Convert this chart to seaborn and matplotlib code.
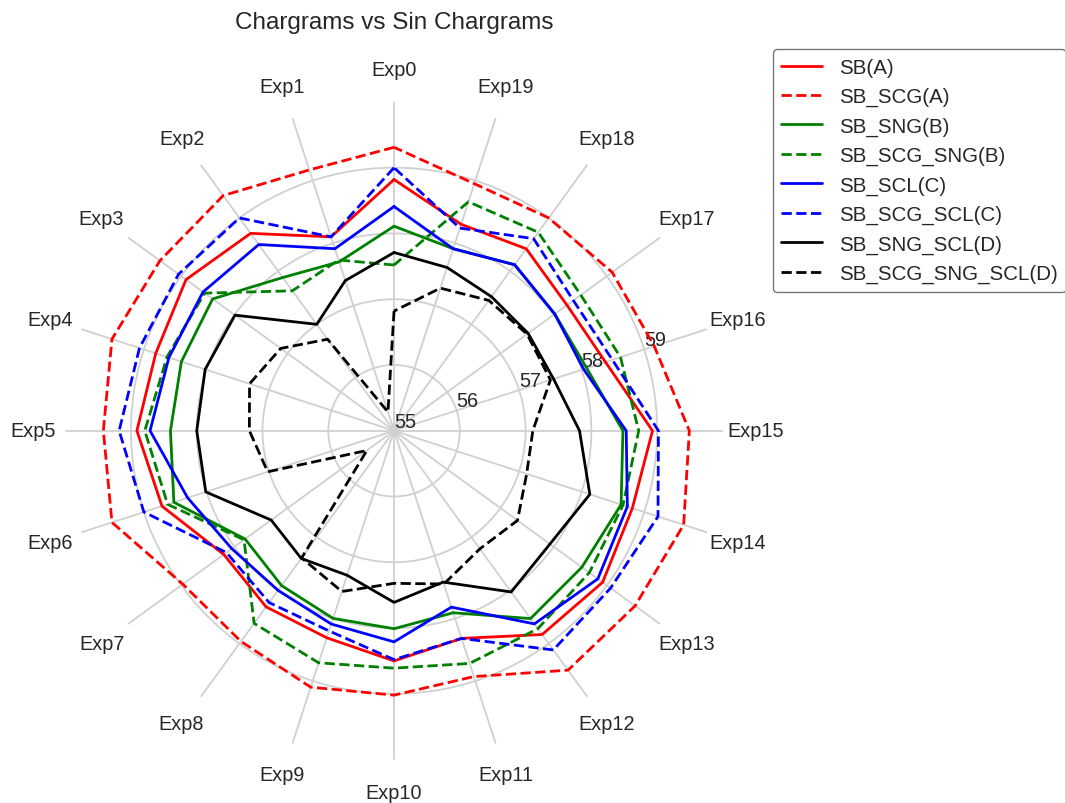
import numpy as np
import pandas as pd
import matplotlib.pyplot as plt
import seaborn as sns

sns.set_theme(style="whitegrid", font_scale=1.25)
plt.rcParams['font.family'] = ['Liberation Sans', 'DejaVu Sans']

experiments = [f"Exp{i}" for i in range(20)]

sb_a = [58.82, 58.10, 58.71, 58.91, 58.81, 58.91, 58.71, 58.20, 58.31, 58.31,
        58.50, 58.32, 58.83, 58.92, 58.81, 58.93, 58.38, 58.25, 58.42, 58.30]
sb_scg_a = [59.31, 59.17, 59.42, 59.40, 59.51, 59.42, 59.51, 58.97, 58.96, 59.10,
            59.02, 58.93, 59.50, 59.53, 59.63, 59.49, 59.16, 59.10, 59.00, 58.95]
sb_sng_b = [58.11, 57.70, 57.88, 58.41, 58.40, 58.40, 58.52, 57.80, 57.91, 58.00,
            58.01, 57.91, 58.53, 58.53, 58.63, 58.48, 58.08, 58.02, 58.12, 57.91]
sb_scg_sng_b = [57.52, 57.73, 57.63, 58.56, 58.63, 58.79, 58.62, 57.82, 58.62, 58.71,
                58.61, 58.72, 58.72, 58.67, 58.66, 58.72, 58.62, 58.51, 58.73, 58.66]
sb_scl_c = [58.41, 57.91, 58.50, 58.59, 58.60, 58.71, 58.30, 58.05, 58.00, 58.09,
            58.21, 57.82, 58.63, 58.83, 58.73, 58.53, 58.03, 58.02, 58.12, 57.91]
sb_scg_scl_c = [59.00, 58.10, 59.00, 59.05, 59.07, 59.18, 59.00, 58.15, 58.23, 58.20,
                58.48, 58.32, 59.12, 59.07, 59.22, 59.02, 58.49, 58.37, 58.61, 58.24]
sb_sng_scl_d = [57.71, 57.40, 57.00, 57.99, 58.02, 58.00, 58.01, 57.31, 57.40, 57.31,
                57.61, 57.42, 58.03, 57.93, 58.13, 57.82, 57.55, 57.52, 57.52, 57.61]
sb_scg_sng_scl_d = [56.82, 55.30, 56.72, 57.13, 57.31, 57.20, 57.02, 55.51, 57.39, 57.57,
                    57.32, 57.45, 57.22, 57.32, 57.12, 57.11, 57.50, 57.50, 57.45, 57.28]

series = [
    ("SB(A)", sb_a, "red", "-"),
    ("SB_SCG(A)", sb_scg_a, "red", "--"),
    ("SB_SNG(B)", sb_sng_b, "green", "-"),
    ("SB_SCG_SNG(B)", sb_scg_sng_b, "green", "--"),
    ("SB_SCL(C)", sb_scl_c, "blue", "-"),
    ("SB_SCG_SCL(C)", sb_scg_scl_c, "blue", "--"),
    ("SB_SNG_SCL(D)", sb_sng_scl_d, "black", "-"),
    ("SB_SCG_SNG_SCL(D)", sb_scg_sng_scl_d, "black", "--"),
]

n = len(experiments)
# Exp0 on top, going counter-clockwise
angles = (np.pi / 2 + np.arange(n) * 2 * np.pi / n) % (2 * np.pi)

fig = plt.figure(figsize=(10.65, 8.04), dpi=100)
ax = fig.add_axes([0.061, 0.054, 0.618, 0.818], projection='polar')

for name, vals, color, ls in series:
    # close the loop by repeating the first point
    df = pd.DataFrame({"angle": np.append(angles, angles[0]),
                       "value": vals + vals[:1]})
    sns.lineplot(data=df, x="angle", y="value", sort=False, estimator=None,
                 color=color, linestyle=ls, linewidth=2, label=name, ax=ax)

ax.set_xlim(0, 2 * np.pi)
ax.set_xticks(angles)
ax.set_xticklabels(experiments)
ax.set_ylim(55, 60)
ax.set_yticks([55, 56, 57, 58, 59])
ax.set_yticklabels(["55", "56", "57", "58", "59"])
ax.set_rlabel_position(18)
ax.tick_params(axis='x', pad=10.5, labelsize=14.3)
ax.tick_params(axis='y', labelsize=14.3)
ax.spines['polar'].set_visible(False)
ax.grid(color='#d0d0d0', linewidth=1.3)
ax.set_xlabel("")
ax.set_ylabel("")

ax.set_title("Chargrams vs Sin Chargrams", fontsize=17.5, y=1.1)
ax.legend(loc='upper left', bbox_to_anchor=(0.716, 0.95),
          bbox_transform=fig.transFigure, fontsize=14.8, frameon=True,
          edgecolor='#555555')

plt.savefig("out.png", dpi=100)
